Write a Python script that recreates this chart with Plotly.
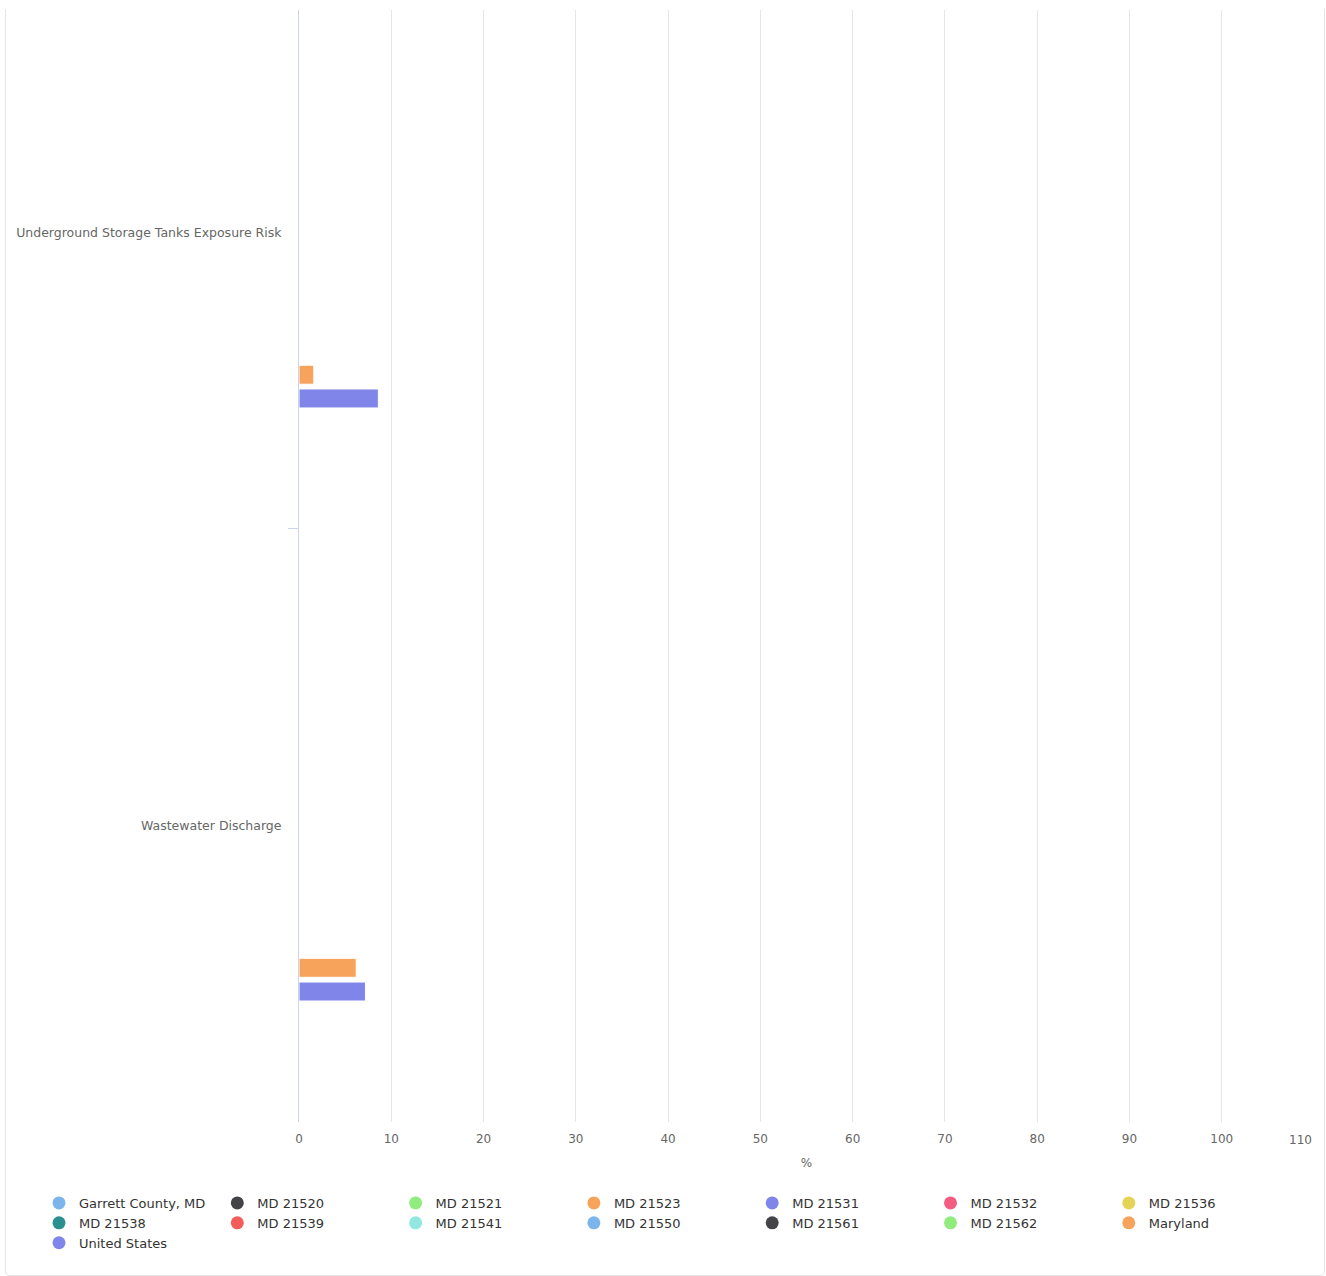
import plotly.graph_objects as go

categories = ["Underground Storage Tanks Exposure Risk", "Wastewater Discharge"]

series_names = [
    "Garrett County, MD", "MD 21520", "MD 21521", "MD 21523", "MD 21531",
    "MD 21532", "MD 21536", "MD 21538", "MD 21539", "MD 21541",
    "MD 21550", "MD 21561", "MD 21562", "Maryland", "United States",
]
series_colors = [
    "#7cb5ec", "#434348", "#90ed7d", "#f7a35c", "#8085e9",
    "#f15c80", "#e4d354", "#2b908f", "#f45b5b", "#91e8e1",
    "#7cb5ec", "#434348", "#90ed7d", "#f7a35c", "#8085e9",
]
# values per series: [Underground Storage Tanks, Wastewater Discharge]
series_values = {
    "Garrett County, MD": [None, None],
    "MD 21520": [None, None],
    "MD 21521": [None, None],
    "MD 21523": [None, None],
    "MD 21531": [None, None],
    "MD 21532": [None, None],
    "MD 21536": [None, None],
    "MD 21538": [None, None],
    "MD 21539": [None, None],
    "MD 21541": [None, None],
    "MD 21550": [None, None],
    "MD 21561": [None, None],
    "MD 21562": [None, None],
    "Maryland": [1.6, 6.2],
    "United States": [8.6, 7.2],
}
x_ticks = [0, 10, 20, 30, 40, 50, 60, 70, 80, 90, 100, 110]

FONT = "DejaVu Sans"
fig = go.Figure()

for name, color in zip(series_names, series_colors):
    fig.add_trace(go.Bar(
        name=name, y=categories, x=series_values[name], orientation="h",
        marker=dict(color=color, line=dict(color="#ffffff", width=1)),
        showlegend=False,
    ))

for name, color in zip(series_names, series_colors):
    fig.add_trace(go.Scatter(
        name=name, x=[None], y=[None], mode="markers",
        marker=dict(color=color, size=13, symbol="circle"),
        showlegend=True, hoverinfo="skip",
    ))

W, H = 1326, 1276
L, R, T, B = 299, 1314, 10, 1122


def px(x):
    return (x - L) / (R - L)


def py(y):
    return (B - y) / (B - T)


border = "#e6e6e6"
shapes = [
    dict(type="line", xref="paper", yref="paper", x0=px(5.5), x1=px(5.5), y0=py(9), y1=py(1271),
         line=dict(color=border, width=1)),
    dict(type="line", xref="paper", yref="paper", x0=px(1324.5), x1=px(1324.5), y0=py(9), y1=py(1271),
         line=dict(color=border, width=1)),
    dict(type="path", xref="paper", yref="paper",
         path=f"M {px(5.5)},{py(1271)} Q {px(5.5)},{py(1275.5)} {px(10)},{py(1275.5)} L {px(1320)},{py(1275.5)} Q {px(1324.5)},{py(1275.5)} {px(1324.5)},{py(1271)}",
         line=dict(color=border, width=1)),
]

tick_text = [str(v) for v in x_ticks]
last_label = tick_text[-1]
tick_text[-1] = ""  # last label is drawn right-aligned to the plot edge below

fig.update_layout(
    width=W, height=H,
    margin=dict(l=L, r=W - R, t=T, b=H - B, pad=0, autoexpand=False),
    paper_bgcolor="#ffffff", plot_bgcolor="#ffffff",
    font=dict(family=FONT, color="#666666", size=12),
    barmode="group", bargap=0.4, bargroupgap=0.2,
    showlegend=True,
    legend=dict(
        orientation="h", xref="paper", yref="paper",
        x=px(39), xanchor="left", y=py(1188), yanchor="top",
        font=dict(family=FONT, size=13, color="#333333"),
        entrywidth=133.3, entrywidthmode="pixels",
        tracegroupgap=0,
        itemclick=False, itemdoubleclick=False,
        bgcolor="rgba(0,0,0,0)",
    ),
    xaxis=dict(
        range=[0, 110], tickvals=x_ticks, ticktext=tick_text,
        showgrid=True, gridcolor="#e6e6e6", gridwidth=1, zeroline=False,
        showline=False, ticks="", ticklabelstandoff=8, automargin=False,
        tickfont=dict(family=FONT, size=12, color="#666666"),
        title=dict(text="%", font=dict(family=FONT, size=12, color="#666666"), standoff=13),
        fixedrange=True,
    ),
    yaxis=dict(
        type="category", categoryorder="array", categoryarray=categories,
        range=[1.5, -0.375], showgrid=False, zeroline=False, automargin=False,
        showline=True, linecolor="#ccd6eb", linewidth=1,
        ticks="outside", tickson="boundaries", ticklen=10, tickcolor="#ccd6eb",
        ticklabelstandoff=14,
        tickfont=dict(family=FONT, size=12.5, color="#666666"),
        fixedrange=True,
    ),
    annotations=[dict(
        text=last_label, xref="x", x=x_ticks[-1], xanchor="right",
        yref="paper", y=py(1139.5), yanchor="middle", showarrow=False,
        font=dict(family=FONT, size=12, color="#666666"),
    )],
    shapes=shapes,
)

fig.write_html("out.html", config={"displayModeBar": False},
               post_script="document.body.style.margin='0';document.body.style.overflow='hidden';")
